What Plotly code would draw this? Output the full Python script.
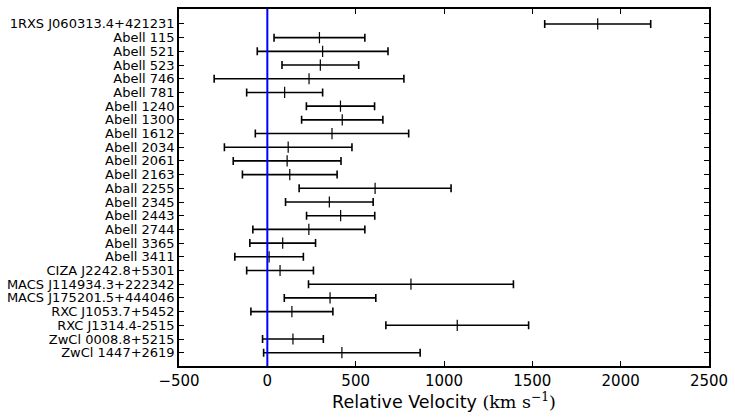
import plotly.graph_objects as go

clusters = [
    "1RXS J060313.4+421231", "Abell 115", "Abell 521", "Abell 523", "Abell 746",
    "Abell 781", "Abell 1240", "Abell 1300", "Abell 1612", "Abell 2034",
    "Abell 2061", "Abell 2163", "Aball 2255", "Abell 2345", "Abell 2443",
    "Abell 2744", "Abell 3365", "Abell 3411", "CIZA J2242.8+5301",
    "MACS J114934.3+222342", "MACS J175201.5+444046", "RXC J1053.7+5452",
    "RXC J1314.4-2515", "ZwCl 0008.8+5215", "ZwCl 1447+2619",
]
velocity = [1870, 295, 313, 300, 236, 98, 414, 424, 366, 118, 112, 127, 610,
            351, 415, 235, 87, 10, 72, 813, 355, 139, 1075, 145, 422]
velocity_err = [300, 257, 370, 217, 537, 215, 193, 230, 434, 361, 305, 268, 430,
                248, 193, 317, 186, 194, 189, 580, 259, 232, 404, 172, 443]

x_ticks = [-500, 0, 500, 1000, 1500, 2000, 2500]

ypos = list(range(len(clusters)))

fig = go.Figure()
fig.add_trace(go.Scatter(
    x=velocity, y=ypos, mode="markers",
    marker=dict(symbol="line-ns", size=8, color="black",
                line=dict(color="black", width=1.2)),
    error_x=dict(type="data", array=velocity_err, visible=True,
                 color="black", thickness=1.6, width=4),
    showlegend=False,
))

fig.add_shape(type="line", x0=0, x1=0, xref="x", y0=0, y1=1, yref="paper",
              line=dict(color="#0000ff", width=2), layer="above")

fig.update_layout(
    width=735, height=419,
    margin=dict(l=175, r=23, t=7, b=53),
    paper_bgcolor="white", plot_bgcolor="white",
    font=dict(family="DejaVu Sans", color="black"),
    xaxis=dict(
        range=[-500, 2500], tickvals=x_ticks, ticks="inside", ticklen=5,
        tickwidth=1, tickcolor="black", showgrid=False, zeroline=False,
        showline=True, linecolor="black", linewidth=1.5, mirror="ticks",
        tickfont=dict(size=15, family="DejaVu Sans"),
        title=dict(
            text="Relative Velocity <span style='font-family:DejaVu Serif'>(km s<sup>\u22121</sup>)</span>",
            font=dict(size=17.5, family="DejaVu Sans"), standoff=7),
    ),
    yaxis=dict(
        range=[24.97, -1.09], tickvals=ypos, ticktext=clusters,
        ticks="inside", ticklen=5, tickwidth=1, tickcolor="black",
        showgrid=False, zeroline=False, showline=True, linecolor="black",
        linewidth=1.5, mirror="ticks",
        tickfont=dict(size=13, family="DejaVu Sans"),
    ),
)

fig.write_html("out.html", config={"displayModeBar": False},
               post_script="document.body.style.margin='0';document.body.style.overflow='hidden';")
